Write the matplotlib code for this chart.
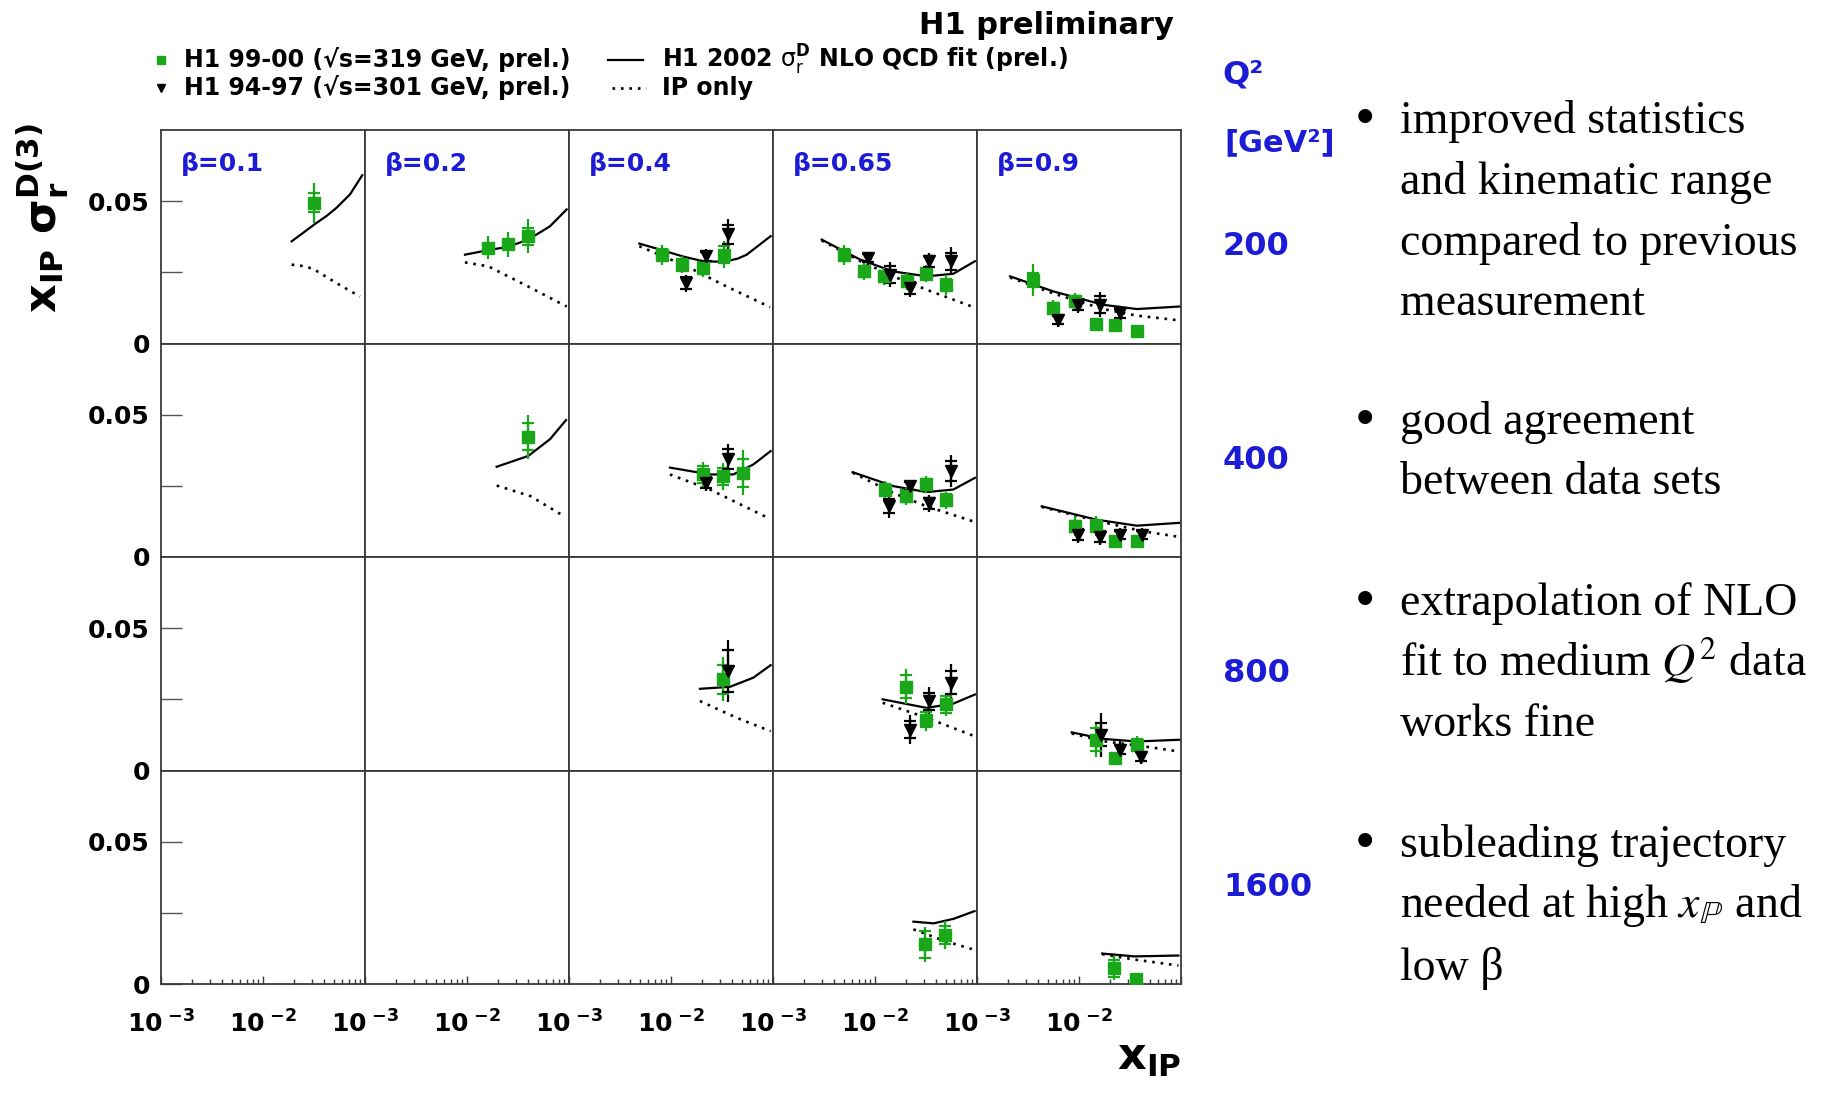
import matplotlib
matplotlib.use('Agg')
import matplotlib.pyplot as plt
from matplotlib.ticker import FixedLocator, FixedFormatter, LogLocator, NullFormatter, NullLocator

plt.rcParams['font.family'] = ['DejaVu Sans']
plt.rcParams['mathtext.fontset'] = 'dejavusans'

green = '#1aa81a'
blue = '#1c1cd6'
frame = '#3a3a3a'

q2_labels = ['200', '400', '800', '1600']
beta_labels = ['β=0.1', 'β=0.2', 'β=0.4', 'β=0.65', 'β=0.9']

# H1 99-00 (prel.) per (Q2 row, beta col): x_IP, x_IP*sigma_r, stat err, total err
h1_9900 = {
    (0, 0): ([0.0318], [0.0495], [0.0033], [0.0070]),
    (0, 1): ([0.0162, 0.0254, 0.0399], [0.0336, 0.0348, 0.0377], [0.0015, 0.0015, 0.0030], [0.0040, 0.0045, 0.0059]),
    (0, 2): ([0.0081, 0.0127, 0.0205, 0.0331], [0.0312, 0.0277, 0.0265, 0.0312], [0.002, 0.002, 0.002, 0.003], [0.0035, 0.003, 0.003, 0.0047]),
    (0, 3): ([0.00497, 0.0078, 0.01225, 0.0204, 0.0314, 0.0497], [0.0312, 0.0253, 0.0236, 0.0218, 0.0245, 0.0207],
             [0.002, 0.002, 0.002, 0.002, 0.002, 0.002], [0.0035, 0.003, 0.003, 0.003, 0.003, 0.0035]),
    (0, 4): ([0.00356, 0.0056, 0.00914, 0.0147, 0.0225, 0.0368], [0.0224, 0.0124, 0.0148, 0.0069, 0.0065, 0.0045],
             [0.0025, 0.002, 0.002, 0.001, 0.001, 0.001], [0.0056, 0.003, 0.003, 0.0012, 0.0012, 0.0012]),
    (1, 1): ([0.0399], [0.0423], [0.0047], [0.0077]),
    (1, 2): ([0.0205, 0.0326, 0.0505], [0.0290, 0.0284, 0.0296], [0.003, 0.003, 0.005], [0.0044, 0.0047, 0.0079]),
    (1, 3): ([0.01253, 0.0201, 0.0314, 0.0497], [0.0237, 0.0214, 0.0255, 0.0200], [0.002, 0.002, 0.002, 0.002], [0.003, 0.003, 0.003, 0.003]),
    (1, 4): ([0.00914, 0.0147, 0.0225, 0.0368], [0.0108, 0.0110, 0.0055, 0.0055], [0.002, 0.002, 0.001, 0.001], [0.0035, 0.0035, 0.0015, 0.0015]),
    (2, 2): ([0.0326], [0.0320], [0.005], [0.0077]),
    (2, 3): ([0.0201, 0.0314, 0.0497], [0.0294, 0.0179, 0.0232], [0.004, 0.0025, 0.003], [0.0062, 0.004, 0.004]),
    (2, 4): ([0.0147, 0.0225, 0.0368], [0.0108, 0.0044, 0.0091], [0.004, 0.0015, 0.002], [0.0062, 0.002, 0.003]),
    (3, 3): ([0.0307, 0.0491], [0.0139, 0.0172], [0.0047, 0.003], [0.0062, 0.005]),
    (3, 4): ([0.0221, 0.0365], [0.0056, 0.0018], [0.003, 0.001], [0.0041, 0.0012]),
}

# H1 94-97 (prel.)
h1_9497 = {
    (0, 2): ([0.0140, 0.0220, 0.0365], [0.0212, 0.0306, 0.0383], [0.002, 0.0015, 0.0035], [0.003, 0.0025, 0.0053]),
    (0, 3): ([0.00859, 0.0140, 0.0220, 0.0338, 0.0552], [0.0301, 0.0242, 0.0195, 0.0289, 0.0289],
             [0.0015, 0.003, 0.002, 0.002, 0.003], [0.002, 0.0044, 0.003, 0.003, 0.005]),
    (0, 4): ([0.00627, 0.00984, 0.0161, 0.0252], [0.0083, 0.0136, 0.0136, 0.0106], [0.0015, 0.002, 0.003, 0.0015], [0.0025, 0.003, 0.0044, 0.002]),
    (1, 2): ([0.0220, 0.0365], [0.0261, 0.0343], [0.002, 0.0035], [0.003, 0.0053]),
    (1, 3): ([0.0138, 0.0220, 0.0341, 0.0552], [0.0178, 0.0249, 0.0188, 0.0302], [0.0025, 0.0015, 0.002, 0.0035], [0.004, 0.002, 0.003, 0.0056]),
    (1, 4): ([0.00984, 0.0161, 0.0252, 0.0413], [0.0078, 0.0072, 0.0078, 0.0078], [0.002, 0.002, 0.0015, 0.0015], [0.003, 0.003, 0.0025, 0.0025]),
    (2, 2): ([0.0365], [0.0350], [0.0075], [0.011]),
    (2, 3): ([0.0220, 0.0341, 0.0552], [0.0144, 0.0244, 0.0309], [0.003, 0.003, 0.004], [0.005, 0.005, 0.0065]),
    (2, 4): ([0.0163, 0.0252, 0.0403], [0.0126, 0.0073, 0.0049], [0.004, 0.0015, 0.0015], [0.0077, 0.003, 0.0025]),
}

# H1 2002 NLO QCD fit
nlo_fit = {
    (0, 0): ([0.0191, 0.0248, 0.0318, 0.0420, 0.0527, 0.0713, 0.094], [0.0359, 0.0389, 0.0418, 0.0448, 0.0477, 0.0524, 0.0591]),
    (0, 1): ([0.00955, 0.0162, 0.0254, 0.0399, 0.0652, 0.0948], [0.0312, 0.0328, 0.0340, 0.0365, 0.0412, 0.0471]),
    (0, 2): ([0.00489, 0.0078, 0.0130, 0.0207, 0.0326, 0.0450, 0.0552, 0.0948], [0.0351, 0.0330, 0.0306, 0.0289, 0.0287, 0.0298, 0.0312, 0.0377]),
    (0, 3): ([0.0030, 0.00713, 0.0151, 0.0321, 0.0586, 0.0955], [0.0365, 0.0295, 0.0253, 0.0236, 0.0245, 0.0289]),
    (0, 4): ([0.00211, 0.0056, 0.0173, 0.0368, 0.0977], [0.0236, 0.0183, 0.0136, 0.0121, 0.0130]),
    (1, 1): ([0.01954, 0.0399, 0.0652, 0.0935], [0.0317, 0.0355, 0.0414, 0.0481]),
    (1, 2): ([0.00977, 0.0241, 0.0408, 0.0641, 0.0948], [0.0314, 0.0290, 0.0290, 0.0325, 0.0372]),
    (1, 3): ([0.00604, 0.0151, 0.0321, 0.0586, 0.0955], [0.0298, 0.0249, 0.0228, 0.0237, 0.0278]),
    (1, 4): ([0.00431, 0.01493, 0.0368, 0.0963], [0.0178, 0.0131, 0.0110, 0.0120]),
    (2, 2): ([0.0192, 0.0379, 0.0641, 0.0948], [0.0287, 0.0294, 0.0326, 0.0370]),
    (2, 3): ([0.01189, 0.0321, 0.0586, 0.0955], [0.0250, 0.0220, 0.0235, 0.0267]),
    (2, 4): ([0.00848, 0.0173, 0.0368, 0.0963], [0.0134, 0.0111, 0.0102, 0.0108]),
    (3, 3): ([0.0238, 0.0375, 0.0590, 0.0946], [0.0219, 0.0213, 0.0229, 0.0256]),
    (3, 4): ([0.01686, 0.0349, 0.0944], [0.0107, 0.0097, 0.0100]),
}

# pomeron (IP) only contribution
ip_only = {
    (0, 0): ([0.0191, 0.0248, 0.0311, 0.0527, 0.0893], [0.0277, 0.0272, 0.0262, 0.0212, 0.0165]),
    (0, 1): ([0.00955, 0.0162, 0.0399, 0.0948], [0.0285, 0.0271, 0.0200, 0.0130]),
    (0, 2): ([0.00489, 0.01426, 0.0352, 0.0935], [0.0342, 0.0271, 0.0200, 0.0128]),
    (0, 3): ([0.0030, 0.00713, 0.0151, 0.0321, 0.092], [0.0362, 0.0290, 0.0236, 0.0189, 0.0128]),
    (0, 4): ([0.00211, 0.0056, 0.0173, 0.0368, 0.0977], [0.0232, 0.0176, 0.0121, 0.0098, 0.0081]),
    (1, 1): ([0.01954, 0.0418, 0.0917], [0.0251, 0.0214, 0.0141]),
    (1, 2): ([0.00977, 0.0241, 0.0899], [0.0290, 0.0237, 0.0137]),
    (1, 3): ([0.00604, 0.0151, 0.0321, 0.092], [0.0296, 0.0225, 0.0178, 0.0125]),
    (1, 4): ([0.00431, 0.01493, 0.0217, 0.0428, 0.0908], [0.0176, 0.0127, 0.0114, 0.0090, 0.0072]),
    (2, 2): ([0.0192, 0.0441, 0.0948], [0.0244, 0.0185, 0.0138]),
    (2, 3): ([0.01189, 0.0321, 0.0955], [0.0238, 0.0185, 0.0120]),
    (2, 4): ([0.00848, 0.0173, 0.0428, 0.0947], [0.0130, 0.0103, 0.0085, 0.0067]),
    (3, 3): ([0.0238, 0.0491, 0.0929], [0.0192, 0.0150, 0.0121]),
    (3, 4): ([0.01686, 0.0349, 0.0944], [0.0105, 0.0086, 0.0065]),
}

bullets = [
    ['improved statistics', 'and kinematic range', 'compared to previous', 'measurement'],
    ['good agreement', 'between data sets'],
    ['extrapolation of NLO', r'fit to medium $Q^2$ data', 'works fine'],
    ['subleading trajectory', r'needed at high $x_{\mathbb{P}}$ and', 'low β'],
]
bullet_baselines = [[133, 194, 255, 315], [434, 494], [615, 676, 736], [857, 917, 980]]

W, H = 1841, 1098
fig = plt.figure(figsize=(W / 100, H / 100), dpi=100)

# overlay in pixel coordinates for the free text
ov = fig.add_axes([0, 0, 1, 1])
ov.set_xlim(0, W)
ov.set_ylim(H, 0)
ov.axis('off')

x_left, y_top, pw, ph = 161, 130, 204, 213.5


def draw_points(ax, rec, marker, color, ms):
    xs, ys, stat, tot = rec
    ax.errorbar(xs, ys, yerr=tot, fmt='none', ecolor=color, elinewidth=1.6, capsize=0, zorder=3)
    ax.errorbar(xs, ys, yerr=stat, fmt=marker, color=color, mec=color, ms=ms,
                elinewidth=1.6, capsize=4.5, capthick=1.6, zorder=4)


for r in range(4):
    for c in range(5):
        ax = fig.add_axes([(x_left + c * pw) / W, 1 - (y_top + (r + 1) * ph) / H, pw / W, ph / H])
        ax.set_xscale('log')
        ax.set_xlim(1e-3, 1e-1)
        ax.set_ylim(0, 0.075)
        for s in ax.spines.values():
            s.set_color(frame)
            s.set_linewidth(1.3)

        if r == 3:
            ax.xaxis.set_major_locator(FixedLocator([1e-3, 1e-2, 1e-1]))
            ax.xaxis.set_major_formatter(FixedFormatter([r'$\mathbf{10}^{\ \mathbf{-3}}$',
                                                         r'$\mathbf{10}^{\ \mathbf{-2}}$', '']))
            ax.xaxis.set_minor_locator(LogLocator(base=10, subs=range(2, 10)))
            ax.xaxis.set_minor_formatter(NullFormatter())
            ax.tick_params(axis='x', which='major', direction='in', length=6, width=1, color=frame,
                           labelsize=18, pad=19)
            ax.tick_params(axis='x', which='minor', direction='in', length=3.5, width=1, color=frame)
        else:
            ax.xaxis.set_major_locator(NullLocator())
            ax.xaxis.set_minor_locator(NullLocator())

        if c == 0:
            ax.yaxis.set_major_locator(FixedLocator([0, 0.025, 0.05]))
            ax.yaxis.set_major_formatter(FixedFormatter(['0', '', '0.05']))
            ax.tick_params(axis='y', direction='in', length=15, width=1, color='#555555',
                           labelsize=18, pad=8)
            for lab in ax.get_yticklabels():
                lab.set_fontweight('bold')
        else:
            ax.yaxis.set_major_locator(NullLocator())
        ax.yaxis.set_minor_locator(NullLocator())

        if (r, c) in nlo_fit:
            xs, ys = nlo_fit[(r, c)]
            ax.plot(xs, ys, color='black', lw=1.6, zorder=2)
        if (r, c) in ip_only:
            xs, ys = ip_only[(r, c)]
            ax.plot(xs, ys, color='black', lw=1.9, ls=(0, (1, 2.2)), zorder=2)
        if (r, c) in h1_9900:
            draw_points(ax, h1_9900[(r, c)], 's', green, 8.5)
        if (r, c) in h1_9497:
            draw_points(ax, h1_9497[(r, c)], 'v', 'black', 9)

        if r == 0:
            ax.annotate(beta_labels[c], xy=(0, 1), xycoords='axes fraction', xytext=(20, -34),
                        textcoords='offset pixels', color=blue, fontsize=18, fontweight='bold',
                        ha='left', va='center')

# Q2 labels on the right
ov.text(1222, 75, 'Q²', color=blue, fontsize=23, fontweight='bold', ha='left', va='center')
ov.text(1224, 143, '[GeV²]', color=blue, fontsize=22, fontweight='bold', ha='left', va='center')
for r, lab in enumerate(q2_labels):
    ov.text(1223, y_top + (r + 0.5) * ph + 10, lab, color=blue, fontsize=23, fontweight='bold',
            ha='left', va='center')

# title and legend
ov.text(1174, 26, 'H1 preliminary', fontsize=22, fontweight='bold', ha='right', va='center')
ov.plot([161], [60], 's', color=green, ms=5.5)
ov.plot([161], [88], 'v', color='black', ms=6)
ov.plot([608, 643], [60, 60], color='black', lw=1.6)
ov.plot([612, 646], [88, 88], color='black', lw=1.9, ls=(0, (1, 2.2)))
ov.text(184, 60, 'H1 99-00 (√s=319 GeV, prel.)', fontsize=17, fontweight='bold', ha='left', va='center')
ov.text(184, 88, 'H1 94-97 (√s=301 GeV, prel.)', fontsize=17, fontweight='bold', ha='left', va='center')
ov.text(662, 60, r'H1 2002 $\mathrm{\sigma}_{\mathrm{r}}^{\mathbf{D}}$ NLO QCD fit (prel.)', fontsize=17,
        fontweight='bold', ha='left', va='center')
ov.text(662, 88, 'IP only', fontsize=17, fontweight='bold', ha='left', va='center')

# axis titles
ov.text(43, 218, r'$\mathbf{x_{IP}\ \sigma_{r}^{D(3)}}$', fontsize=32,
        rotation=90, ha='center', va='center')
ov.text(1181, 1036, r'$\mathbf{x_{IP}}$', fontsize=32, ha='right', va='top')

# bullet list
for block, bases in zip(bullets, bullet_baselines):
    ov.text(1365, bases[0] - 12, '•', fontsize=42, family='Liberation Serif',
            ha='center', va='center')
    for line, yb in zip(block, bases):
        ov.text(1400, yb, line, fontsize=33, family='Liberation Serif',
                ha='left', va='baseline', math_fontfamily='stix')

fig.savefig('out.png', dpi=100)
